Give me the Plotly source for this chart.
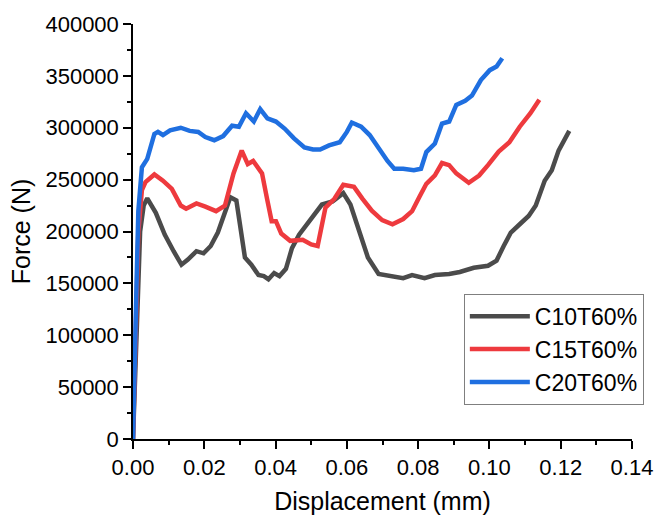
import plotly.graph_objects as go

# ---- data ----
c10_x = [0.0, 0.001, 0.002, 0.003, 0.004, 0.0064, 0.0089, 0.0114, 0.0136, 0.0154, 0.0178, 0.0198,
         0.0218, 0.0238, 0.0258, 0.0273, 0.029, 0.0302, 0.0314, 0.0332, 0.0352, 0.0367, 0.038,
         0.0396, 0.0411, 0.0429, 0.0446, 0.0466, 0.05, 0.053, 0.056, 0.059, 0.061, 0.0634, 0.0659,
         0.0689, 0.0719, 0.0758, 0.0783, 0.0818, 0.0847, 0.0887, 0.0917, 0.0956, 0.0996, 0.102,
         0.104, 0.106, 0.1085, 0.111, 0.113, 0.1155, 0.1175, 0.1194, 0.1224]
c10_y = [0, 100000, 200000, 225000, 232000, 218000, 197000, 181000, 168000, 173000, 181000, 179000,
         186000, 199000, 217000, 233000, 230000, 204000, 175000, 168000, 158000, 157000, 154000,
         160000, 157000, 164000, 184000, 197000, 212000, 226000, 229000, 237000, 226000, 201000, 175000,
         159000, 157000, 155000, 158000, 155000, 158000, 159000, 161000, 165000, 167000, 172000,
         186000, 199000, 207000, 215000, 225000, 249000, 259000, 278000, 297000]

c15_x = [0.0, 0.0008, 0.0015, 0.0025, 0.0035, 0.006, 0.0084, 0.0109, 0.0134, 0.0149, 0.0178, 0.0203,
         0.0233, 0.0258, 0.0282, 0.0305, 0.0322, 0.0337, 0.0362, 0.0377, 0.0389, 0.0401, 0.0416,
         0.0441, 0.0476, 0.05, 0.0518, 0.054, 0.0565, 0.059, 0.062, 0.0644, 0.067, 0.0699, 0.0728,
         0.0758, 0.0783, 0.0803, 0.0823, 0.0847, 0.0867, 0.0887, 0.0907, 0.0942, 0.0971, 0.0996,
         0.1026, 0.1056, 0.1085, 0.1115, 0.114]
c15_y = [0, 100000, 200000, 240000, 247700, 255000, 249000, 241000, 225000, 222000, 227000, 224000,
         219600, 225000, 256000, 278000, 265000, 268000, 256000, 230000, 210000, 210000, 198000,
         191000, 192000, 187500, 186000, 223000, 231500, 245000, 243000, 231500, 220000, 211000, 207000,
         212000, 219600, 233000, 246000, 254000, 266000, 264000, 256000, 247000, 254000, 264000,
         277000, 286000, 301000, 314000, 327000]

c20_x = [0.0, 0.0005, 0.001, 0.0015, 0.0025, 0.004, 0.006, 0.007, 0.0084, 0.0104, 0.0134, 0.0159,
         0.0183, 0.0203, 0.0228, 0.0253, 0.0278, 0.0297, 0.0317, 0.0339, 0.0357, 0.0377, 0.0401,
         0.0426, 0.0451, 0.0481, 0.0505, 0.0525, 0.055, 0.058, 0.06, 0.0614, 0.064, 0.0664, 0.0689,
         0.0714, 0.0733, 0.0758, 0.0788, 0.0808, 0.0823, 0.0847, 0.0867, 0.0887, 0.0907, 0.0932,
         0.0951, 0.0976, 0.1001, 0.102, 0.1036]
c20_y = [0, 60000, 150000, 220000, 262000, 270000, 294000, 296000, 293000, 297500, 300000, 297000,
         296000, 291000, 288000, 292000, 302000, 301000, 314000, 306000, 318000, 309000, 306000,
         299000, 290000, 281000, 279000, 279000, 283000, 286000, 296000, 305000, 301000, 293000, 280000,
         268000, 260500, 260500, 259000, 260500, 276600, 284700, 304000, 306000, 322000, 326000,
         331000, 346000, 355500, 359000, 367000]

series_names = ["C10T60%", "C15T60%", "C20T60%"]
x_ticks = [0.00, 0.02, 0.04, 0.06, 0.08, 0.10, 0.12, 0.14]
y_ticks = [0, 50000, 100000, 150000, 200000, 250000, 300000, 350000, 400000]

colors = ["#4b4b4b", "#ee3a3e", "#1f6fe0"]
FONT = "Liberation Sans, Arial, sans-serif"

fig = go.Figure()
for name, xs, ys, col in zip(series_names, [c10_x, c15_x, c20_x], [c10_y, c15_y, c20_y], colors):
    fig.add_trace(go.Scatter(x=xs, y=ys, mode="lines", name=name,
                             line=dict(color=col, width=4.5, shape="linear")))

axis_common = dict(showline=True, linecolor="black", linewidth=1.5, showgrid=False, zeroline=False,
                   ticks="outside", ticklen=8, tickwidth=1.5, tickcolor="black", automargin=False,
                   ticklabeloverflow="allow",
                   tickfont=dict(family=FONT, size=22, color="black"), mirror=False)

fig.update_xaxes(range=[0, 0.14], tickvals=x_ticks, ticktext=[f"{v:.2f}" for v in x_ticks],
                 minor=dict(dtick=0.01, tick0=0, ticks="outside", ticklen=4, tickwidth=1.5, tickcolor="black"),
                 title=dict(text="Displacement (mm)", font=dict(family=FONT, size=25, color="black"), standoff=13),
                 **axis_common)
fig.update_yaxes(range=[0, 400000], tickvals=y_ticks, ticktext=[str(v) for v in y_ticks],
                 minor=dict(dtick=25000, tick0=0, ticks="outside", ticklen=4, tickwidth=1.5, tickcolor="black"),
                 title=dict(text="Force (N)", font=dict(family=FONT, size=25, color="black"), standoff=8),
                 **axis_common)

fig.update_layout(
    width=656, height=518,
    margin=dict(l=133, r=21, t=24, b=79),
    paper_bgcolor="white", plot_bgcolor="white",
    showlegend=True,
    legend=dict(x=0.663, y=0.35, xanchor="left", yanchor="top",
                bordercolor="#7f7f7f", borderwidth=1, bgcolor="white",
                font=dict(family=FONT, size=23, color="black"),
                tracegroupgap=0, itemwidth=60),
)

fig.write_html("out.html", config={"displayModeBar": False},
               post_script="document.body.style.margin='0';document.body.style.padding='0';")
